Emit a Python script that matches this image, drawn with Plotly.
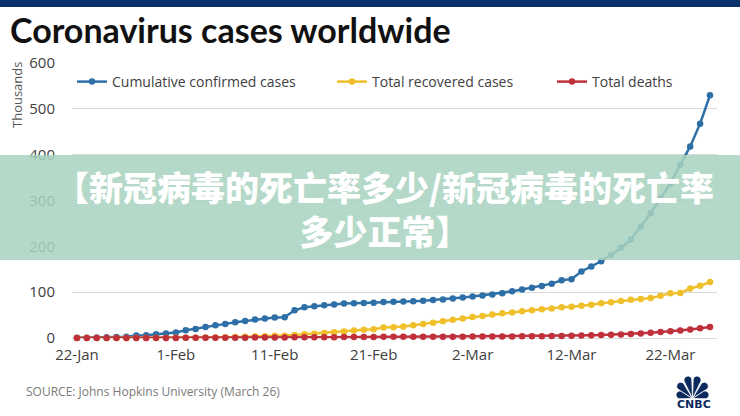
import math
import pandas as pd
import plotly.graph_objects as go

# Daily totals, in thousands, 22 Jan - 26 Mar 2020
dates = pd.date_range("2020-01-22", "2020-03-26", freq="D")

confirmed = [
    0.555, 0.654, 0.941, 1.434, 2.118, 2.927, 5.578, 6.166, 8.234, 9.927,
    12.038, 16.787, 19.887, 23.898, 27.643, 30.802, 34.395, 37.129, 40.160, 42.769,
    44.811, 45.229, 60.381, 66.909, 69.052, 71.235, 73.270, 75.152, 75.652, 76.212,
    76.841, 78.602, 78.982, 79.546, 80.399, 81.376, 82.738, 84.122, 86.011,
    88.369, 90.306, 92.840, 95.120, 97.886, 101.801, 105.847, 109.821, 113.590, 118.620,
    125.875, 128.352, 145.205, 156.101, 167.454, 181.574, 197.102, 214.821, 242.570, 272.208,
    304.507, 336.953, 378.235, 418.045, 467.653, 529.591,
]
recovered = [
    0.028, 0.030, 0.036, 0.039, 0.052, 0.061, 0.107, 0.126, 0.143, 0.222,
    0.284, 0.472, 0.623, 0.852, 1.124, 1.487, 2.011, 2.616, 3.244, 3.946,
    4.683, 5.150, 6.295, 8.058, 9.395, 10.865, 12.583, 14.352, 16.121, 18.177,
    18.890, 22.886, 23.394, 25.227, 27.905, 30.384, 33.277, 36.711, 39.782,
    42.716, 45.602, 48.228, 51.170, 53.796, 55.865, 58.358, 60.694, 62.494, 64.404,
    67.003, 68.324, 70.251, 72.624, 76.034, 78.088, 80.840, 83.207, 84.854, 87.256,
    91.912, 97.899, 98.351, 107.990, 113.787, 122.150,
]
deaths = [
    0.017, 0.018, 0.026, 0.042, 0.056, 0.082, 0.131, 0.133, 0.171, 0.213,
    0.259, 0.362, 0.426, 0.492, 0.564, 0.634, 0.719, 0.806, 0.906, 1.013,
    1.113, 1.118, 1.371, 1.523, 1.666, 1.770, 1.868, 2.007, 2.122, 2.247,
    2.251, 2.458, 2.469, 2.629, 2.708, 2.770, 2.814, 2.872, 2.941,
    2.996, 3.085, 3.160, 3.254, 3.348, 3.460, 3.558, 3.802, 3.988, 4.262,
    4.615, 4.720, 5.404, 5.819, 6.440, 7.126, 7.905, 8.733, 9.867, 11.299,
    12.973, 14.623, 16.497, 18.615, 21.181, 23.970,
]

series_names = ["Cumulative confirmed cases", "Total recovered cases", "Total deaths"]
series_colors = ["#2e6fa7", "#f0c02c", "#c0303a"]

tick_dates = ["2020-01-22", "2020-02-01", "2020-02-11", "2020-02-21",
              "2020-03-02", "2020-03-12", "2020-03-22"]
tick_labels = ["22-Jan", "1-Feb", "11-Feb", "21-Feb", "2-Mar", "12-Mar", "22-Mar"]
y_ticks = [0, 100, 200, 300, 400, 500, 600]

title_text = "Coronavirus cases worldwide"
source_text = "SOURCE: Johns Hopkins University (March 26)"
banner_text = "【新冠病毒的死亡率多少/新冠病毒的死亡率<br>多少正常】"

# canvas and plot-area geometry (pixels)
W, H = 740, 416
L, R, T, B = 72, 717, 63, 338
PW, PH = R - L, B - T


def px(x):
    return (x - L) / PW


def py(y):
    return (B - y) / PH


fig = go.Figure()
legend_ids = ["legend", "legend2", "legend3"]
for vals, name, color, lg in zip([confirmed, recovered, deaths], series_names,
                                 series_colors, legend_ids):
    fig.add_trace(go.Scatter(
        x=dates, y=vals, name=name, mode="lines+markers",
        line=dict(color=color, width=2.5),
        marker=dict(color=color, size=6.5),
        cliponaxis=False, legend=lg,
    ))

legend_common = dict(orientation="h", yanchor="middle", xanchor="left",
                     bgcolor="rgba(0,0,0,0)", borderwidth=0,
                     font=dict(family="Open Sans", size=14, color="#404040"),
                     itemwidth=30)
legend_x = [72, 332, 552]
legends = {}
for lg, lx in zip(legend_ids, legend_x):
    legends[lg] = dict(legend_common, x=px(lx), y=py(82))

shapes = [
    # navy strip along the top edge
    dict(type="rect", xref="paper", yref="paper", x0=px(0), x1=px(W),
         y0=py(0), y1=py(7), fillcolor="#08306b", line_width=0, layer="above"),
    # translucent green banner
    dict(type="rect", xref="paper", yref="paper", x0=px(0), x1=px(W),
         y0=py(155), y1=py(260), fillcolor="rgb(169,211,191)", opacity=0.86,
         line_width=0, layer="above"),
]

# peacock mark: six petals fanned out from a common base
base_x, base_y = 692.5, 398.5
petals = [(164, 17, 8), (134, 21, 8), (104, 23, 8), (76, 23, 8), (46, 21, 8), (16, 17, 8)]
for ang, ln, wd in petals:
    a = math.radians(ang)
    ux, uy = math.cos(a), -math.sin(a)
    vx, vy = -uy, ux

    def P(s, o):
        return (base_x + s * ux + o * vx, base_y + s * uy + o * vy)

    r = wd / 2
    k = 0.552 * r
    pts = [P(0, 0), P(ln - r, -r), P(ln - r + k, -r), P(ln, -k), P(ln, 0),
           P(ln, k), P(ln - r + k, r), P(ln - r, r)]
    c = [(px(x), py(y)) for x, y in pts]
    path = (f"M{c[0][0]},{c[0][1]} L{c[1][0]},{c[1][1]} "
            f"C{c[2][0]},{c[2][1]} {c[3][0]},{c[3][1]} {c[4][0]},{c[4][1]} "
            f"C{c[5][0]},{c[5][1]} {c[6][0]},{c[6][1]} {c[7][0]},{c[7][1]} Z")
    shapes.append(dict(type="path", xref="paper", yref="paper", path=path,
                       fillcolor="#0b2a5e", line=dict(color="white", width=0.8),
                       layer="above"))

annotations = [
    dict(text="Thousands", textangle=-90, x=px(17), y=py(95), xref="paper",
         yref="paper", showarrow=False, xanchor="center", yanchor="middle",
         font=dict(family="Open Sans", size=13, color="#595959")),
    dict(text=source_text, x=px(24), y=py(391), xref="paper", yref="paper",
         showarrow=False, xanchor="left", yanchor="middle",
         font=dict(family="Open Sans", size=12, color="#7a7a7a")),
    dict(text="CNBC", x=px(693.5), y=py(404), xref="paper", yref="paper",
         showarrow=False, xanchor="center", yanchor="middle",
         font=dict(family="DejaVu Sans", size=11, color="#0b2a5e", weight=900)),
    dict(text=banner_text, x=px(384), y=py(208), xref="paper", yref="paper",
         showarrow=False, xanchor="center", yanchor="middle", align="center",
         font=dict(family="Noto Sans CJK SC", size=34, color="white", weight=900)),
]

fig.update_layout(
    width=W, height=H,
    margin=dict(l=L, r=W - R, t=T, b=H - B, pad=0),
    paper_bgcolor="white", plot_bgcolor="white",
    title=dict(text=title_text, x=10 / W, xanchor="left", xref="container",
               y=1 - 31 / H, yanchor="middle", yref="container",
               font=dict(family="Lato", size=34, color="#111111", weight="bold")),
    xaxis=dict(
        range=[dates[0] - pd.Timedelta(hours=12), dates[-1] + pd.Timedelta(hours=17)],
        tickvals=tick_dates, ticktext=tick_labels, showgrid=False,
        showline=False, zeroline=False, ticks="",
        tickfont=dict(family="Open Sans", size=15, color="#404040"),
        ticklabelstandoff=6,
    ),
    yaxis=dict(
        range=[0, 600], tickvals=y_ticks, showgrid=True, gridcolor="#d9d9d9",
        gridwidth=1, zeroline=True, zerolinecolor="#d9d9d9", zerolinewidth=1,
        showline=False, ticks="",
        tickfont=dict(family="Open Sans", size=15, color="#404040"),
        ticklabelstandoff=16,
    ),
    shapes=shapes,
    annotations=annotations,
    showlegend=True,
    **legends,
)

fig.write_html("out.html")
